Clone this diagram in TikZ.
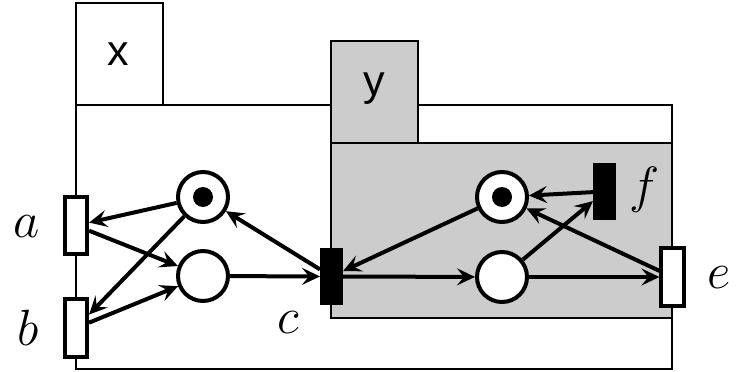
\documentclass[tikz,border=0pt]{standalone}
\usepackage{fix-cm}
\usepackage{fontspec}
\newfontfamily\labsans{Liberation Sans}
\usetikzlibrary{arrows.meta}
\definecolor{boxgray}{RGB}{204,204,204}
\begin{document}
\begin{tikzpicture}[x=1pt,y=-1pt,
  place/.style={circle,draw,line width=4pt,fill=white,minimum size=50pt,inner sep=0pt},
  token/.style={circle,fill=black,minimum size=20pt,inner sep=0pt},
  opentr/.style={rectangle,draw,line width=3.6pt,fill=white,minimum width=22.5pt,minimum height=57.5pt,inner sep=0pt},
  filledtr/.style={rectangle,fill=black,draw=black,line width=1pt,minimum width=22pt,minimum height=56pt,inner sep=0pt},
  arc/.style={line width=4pt,-{Stealth[length=18pt,width=17pt,inset=7pt]}},
  frame/.style={draw,line width=2.2pt},
  lab/.style={font=\fontsize{51}{54}\selectfont,anchor=base,inner sep=0pt},
  tabtext/.style={font=\labsans\fontsize{43}{46}\selectfont,anchor=base,inner sep=0pt}]
\useasboundingbox (0,0) rectangle (736,372);
% frames
\draw[frame] (76,105) rectangle (672,369);
\draw[frame] (76,3) rectangle (163,105);
\filldraw[frame,fill=boxgray] (331,143) rectangle (672,318);
\filldraw[frame,fill=boxgray] (331,41) rectangle (418,143);
\node[tabtext] (xl) at (118,65) {x};
\node[tabtext] (yl) at (374,95) {y};
% places
\node[place] (p1) at (203,197) {};
\node[token] (t1) at (p1) {};
\node[place] (p2) at (203,276) {};
\node[place] (p3) at (502,197) {};
\node[token] (t3) at (p3) {};
\node[place] (p4) at (502,277) {};
% transitions
\node[opentr] (a) at (76,225.5) {};
\node[opentr] (b) at (76,328) {};
\node[filledtr] (c) at (331.5,276.5) {};
\node[opentr] (e) at (672.5,277) {};
\node[filledtr] (f) at (604.5,191.5) {};
% labels
\node[lab] (la) at (27,237) {$a$};
\node[lab] (lb) at (28,345) {$b$};
\node[lab] (lc) at (288,333) {$c$};
\node[lab] (le) at (719,288) {$e$};
\node[lab] (lf) at (645,202) {$f$};
% arcs
\draw[arc] (p1) -- (a);
\draw[arc] (a) -- (p2);
\draw[arc] (p1) -- (b);
\draw[arc] (b) -- (p2);
\draw[arc] (p2) -- (c);
\draw[arc] (c) -- (p1);
\draw[arc] (p3) -- (c);
\draw[arc] (c) -- (p4);
\draw[arc] (p4) -- (e);
\draw[arc] (e) -- (p3);
\draw[arc] (p4) -- (f);
\draw[arc] (f) -- (p3);
\end{tikzpicture}
\end{document}
